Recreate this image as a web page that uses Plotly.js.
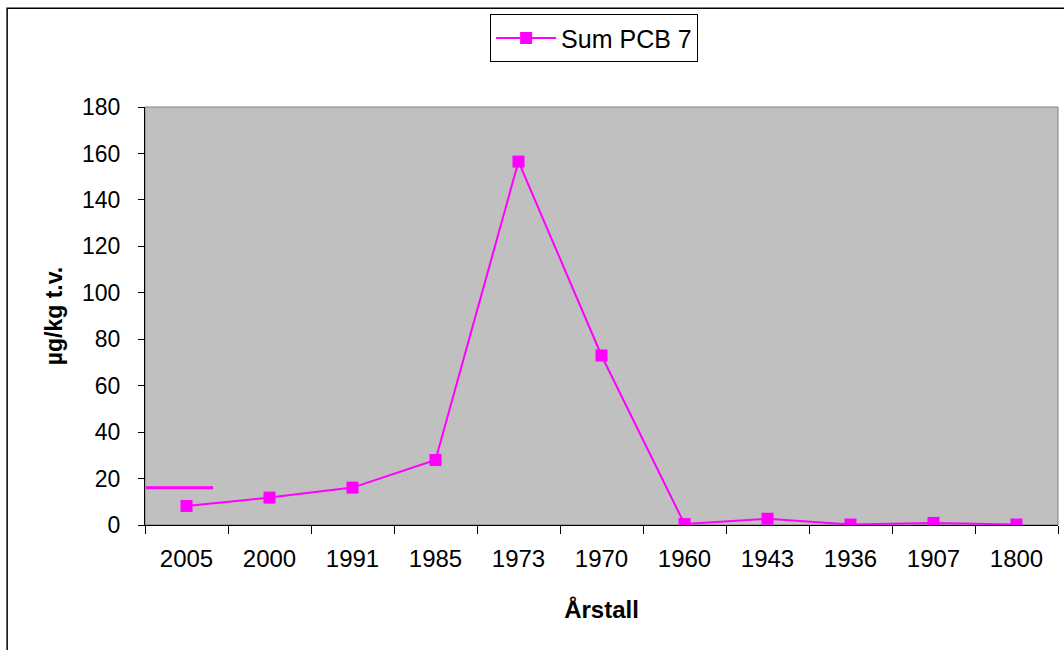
<!DOCTYPE html>
<html>
<head>
<meta charset="utf-8">
<script src="https://cdn.plot.ly/plotly-3.0.1.min.js"></script>
<style>html,body{margin:0;padding:0;background:#fff;}#chart{width:1064px;height:650px;}</style>
</head>
<body>
<div id="chart"></div>
<script>
const years = ["2005", "2000", "1991", "1985", "1973", "1970", "1960", "1943", "1936", "1907", "1800"];
const sumPCB7 = [8.2, 11.8, 16.1, 28, 156.5, 73, 0.4, 2.7, 0.2, 0.9, 0.2];
const seriesName = "Sum PCB 7";
const referenceLevel = 16;
const yTicks = [0, 20, 40, 60, 80, 100, 120, 140, 160, 180];

const font = "Liberation Sans, Arial, sans-serif";

const trace = {
  x: years,
  y: sumPCB7,
  type: "scatter",
  mode: "lines+markers",
  name: seriesName,
  line: {color: "#FF00FF", width: 2},
  marker: {symbol: "square", size: 12, color: "#FF00FF"}
};

const layout = {
  width: 1064,
  height: 650,
  margin: {l: 145, r: 6, t: 107, b: 125},
  paper_bgcolor: "#FFFFFF",
  plot_bgcolor: "#C0C0C0",
  font: {family: font, size: 23, color: "#000"},
  showlegend: true,
  legend: {
    x: 0.378, y: 1.222, xanchor: "left", yanchor: "top",
    bordercolor: "#000", borderwidth: 1, bgcolor: "#FFFFFF",
    font: {family: font, size: 25, color: "#000"},
    itemwidth: 60
  },
  xaxis: {
    type: "category",
    tickson: "boundaries",
    ticks: "outside", ticklen: 8, tickcolor: "#000", tickwidth: 1,
    showline: true, linecolor: "#000", linewidth: 1,
    showgrid: false, zeroline: false,
    tickfont: {family: font, size: 24},
    ticklabelstandoff: 12,
    title: {text: "<b>Årstall</b>", font: {family: font, size: 24}, standoff: 30},
    range: [-0.5, years.length - 0.5]
  },
  yaxis: {
    range: [0, 180],
    tickvals: yTicks,
    ticks: "outside", ticklen: 6, tickcolor: "#000", tickwidth: 1,
    showline: true, linecolor: "#000", linewidth: 1,
    showgrid: false, zeroline: false,
    tickfont: {family: font, size: 23},
    ticklabelstandoff: 13,
    title: {text: "<b>µg/kg t.v.</b>", font: {family: font, size: 23}, standoff: 12}
  },
  shapes: [
    {type: "rect", xref: "paper", yref: "paper", x0: 0, x1: 1, y0: 0, y1: 1,
     line: {color: "#808080", width: 1}, fillcolor: "rgba(0,0,0,0)", layer: "below"},
    {type: "rect", xref: "paper", yref: "paper",
     x0: -0.151, x1: 1.05, y0: -0.4, y1: 1.236,
     line: {color: "#000", width: 1.5}, fillcolor: "rgba(0,0,0,0)"},
    {type: "line", xref: "x", yref: "y", x0: -0.49, x1: 0.32, y0: referenceLevel, y1: referenceLevel,
     line: {color: "#FF00FF", width: 3}}
  ]
};

Plotly.newPlot("chart", [trace], layout, {displayModeBar: false, staticPlot: true});
</script>
</body>
</html>
